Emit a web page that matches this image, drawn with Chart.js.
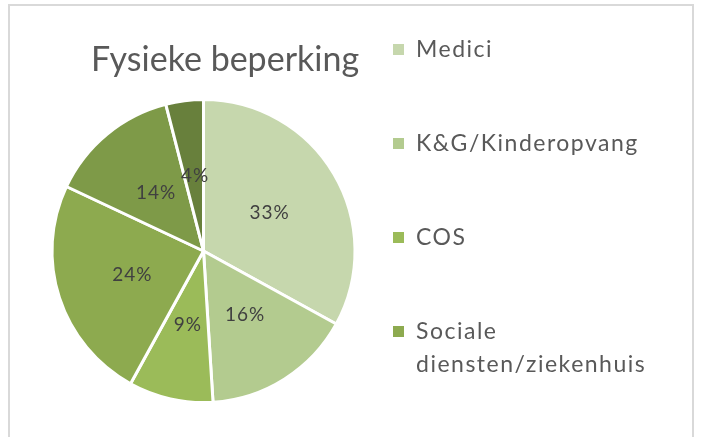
<!DOCTYPE html>
<html>
<head>
<meta charset="utf-8">
<script src="https://cdn.jsdelivr.net/npm/chart.js@4"></script>
<style>
  html, body { margin: 0; padding: 0; background: #fff; overflow: hidden; }
  #wrap { position: relative; width: 702px; height: 437px; }
  #frame { position: absolute; left: 8px; top: 4px; width: 686px; height: 460px; border: 2px solid #d9d9d9; box-sizing: border-box; }
  canvas { position: absolute; left: 0; top: 0; }
</style>
</head>
<body>
<div id="wrap">
  <div id="frame"></div>
  <canvas id="myChart" width="702" height="437"></canvas>
</div>
<script>
// data
const chartTitle = 'Fysieke beperking';
const categories = ['Medici', 'K&G/Kinderopvang', 'COS', 'Sociale diensten/ziekenhuis', 'Categorie 5', 'Categorie 6'];
const shares = [33, 16, 9, 24, 14, 4];
const sliceColors = ['#c6d7ad', '#b3cb8f', '#9bbb59', '#8daa4f', '#7e9a48', '#68803c'];
const legendShown = 4; // the original legend only lists the first four

const FONT = 'Lato, "Open Sans", sans-serif';

// title, legend and percentage labels
const drawExtras = {
  id: 'drawExtras',
  afterDatasetsDraw(chart) {
    const ctx = chart.ctx;
    const meta = chart.getDatasetMeta(0);
    ctx.save();

    // slice labels
    ctx.fillStyle = '#404040';
    ctx.font = '19px ' + FONT;
    ctx.letterSpacing = '1px';
    ctx.textAlign = 'center';
    ctx.textBaseline = 'middle';
    meta.data.forEach(function(arc, i) {
      const p = arc.getCenterPoint();
      ctx.fillText(shares[i] + '%', p.x + 1, p.y);
    });

    // title
    ctx.fillStyle = '#595959';
    ctx.font = '34px ' + FONT;
    ctx.letterSpacing = '0px';
    ctx.fillText(chartTitle, 225, 60);

    // legend
    ctx.font = '23px ' + FONT;
    ctx.letterSpacing = '1.5px';
    ctx.textAlign = 'left';
    var y = 50;
    for (var i = 0; i < legendShown; i++) {
      ctx.fillStyle = sliceColors[i];
      ctx.fillRect(393, y - 6, 11, 11);
      ctx.fillStyle = '#595959';
      // simple word wrap
      var words = categories[i].split(' ');
      var lines = [];
      var line = '';
      words.forEach(function(w) {
        var test = line ? line + ' ' + w : w;
        if (line && ctx.measureText(test).width > 265) {
          lines.push(line);
          line = w;
        } else {
          line = test;
        }
      });
      lines.push(line);
      lines.forEach(function(l, k) {
        ctx.fillText(l, 416, y + k * 33);
      });
      y += 94;
    }
    ctx.restore();
  }
};

const mychart = new Chart('myChart', {
  type: 'pie',
  data: {
    labels: categories,
    datasets: [{
      data: shares,
      backgroundColor: sliceColors,
      borderColor: '#ffffff',
      borderWidth: 3
    }]
  },
  options: {
    responsive: false,
    animation: false,
    layout: { padding: { left: 50, right: 345, top: 98, bottom: 33 } },
    plugins: {
      legend: { display: false },
      title: { display: false },
      tooltip: { enabled: false }
    }
  },
  plugins: [drawExtras]
});
</script>
</body>
</html>
